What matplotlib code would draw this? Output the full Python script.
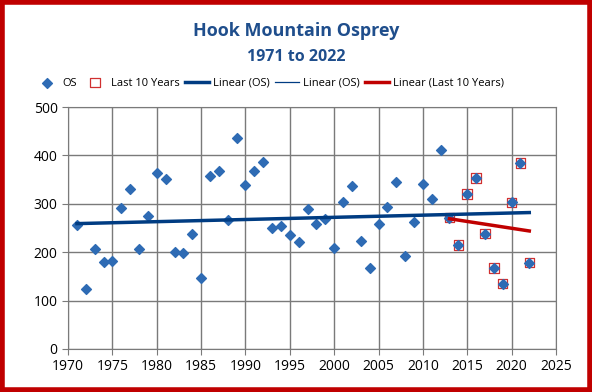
import numpy as np
import matplotlib
matplotlib.use("Agg")
import matplotlib.pyplot as plt
from matplotlib.patches import Rectangle

years = list(range(1971, 2023))
counts = [257, 123, 207, 180, 181, 291, 330, 206, 274, 364,
          352, 200, 199, 238, 147, 357, 367, 267, 435, 338,
          368, 387, 250, 253, 235, 221, 289, 258, 269, 209,
          303, 336, 223, 167, 259, 294, 346, 192, 262, 341,
          310, 411, 271, 215, 320, 353, 238, 167, 135, 303,
          384, 178]
last_years = years[-10:]
last_counts = counts[-10:]

navy = "#003C82"
blue = "#2E6BB4"
red = "#C00000"

plt.rcParams["font.family"] = ["Open Sans", "DejaVu Sans"]

fig = plt.figure(figsize=(5.92, 3.92), dpi=100)
ax = fig.add_axes([0.115, 0.110, 0.824, 0.617])

ax.scatter(years, counts, marker="D", s=25, color=blue, zorder=3, label="OS")
ax.scatter(last_years, last_counts, marker="s", s=46, facecolors="none",
           edgecolors="#D03030", linewidths=0.9, zorder=2, label="Last 10 Years")

x = np.array(years)
p = np.polyfit(x, counts, 1)
ax.plot(x, np.polyval(p, x), color=navy, lw=2.5, zorder=4, label="Linear (OS)")
ax.plot(x, np.polyval(p, x), color=navy, lw=0.9, zorder=4, label="Linear (OS)")
xl = np.array(last_years)
pl = np.polyfit(xl, last_counts, 1)
ax.plot(xl, np.polyval(pl, xl), color=red, lw=2.5, zorder=4,
        label="Linear (Last 10 Years)")

ax.set_xlim(1970, 2025)
ax.set_ylim(0, 500)
ax.set_xticks(range(1970, 2026, 5))
ax.set_yticks(range(0, 501, 100))
ax.grid(True, color="#7a7a7a", lw=1.0)
ax.set_axisbelow(True)
for s in ax.spines.values():
    s.set_color("#7a7a7a")
ax.tick_params(colors="#7a7a7a", labelcolor="black", labelsize=10, length=4)

fig.text(0.5, 0.922, "Hook Mountain Osprey", ha="center", va="center",
         fontsize=13, fontweight="bold", color="#1F4E8C")
fig.text(0.5, 0.855, "1971 to 2022", ha="center", va="center",
         fontsize=11.5, fontweight="bold", color="#1F4E8C")

fig.legend(loc="center", bbox_to_anchor=(0.455, 0.788), ncol=5, frameon=False,
           fontsize=8, handlelength=2.2, handletextpad=0.3, columnspacing=0.5)

fig.patches.append(Rectangle((0.0035, 0.005), 0.993, 0.99, transform=fig.transFigure,
                             fill=False, edgecolor=red, lw=4))

fig.savefig("out.png", dpi=100)
